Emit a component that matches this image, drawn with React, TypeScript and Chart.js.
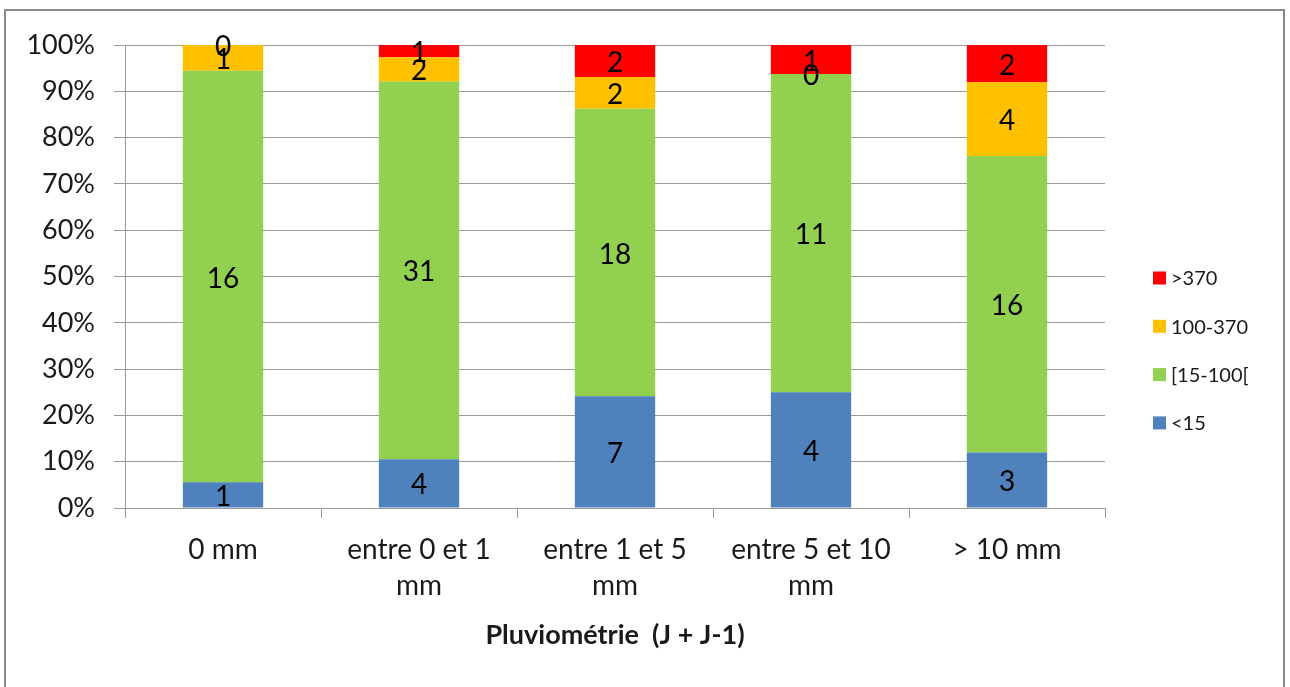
import React, { useEffect, useRef } from "react";
import { Chart, registerables } from "chart.js";

Chart.register(...registerables);

// ---- Data ----
const categories: string[][] = [
  ["0 mm"],
  ["entre 0 et 1", "mm"],
  ["entre 1 et 5", "mm"],
  ["entre 5 et 10", "mm"],
  ["> 10 mm"],
];
const seriesNames = ["<15", "[15-100[", "100-370", ">370"];
const seriesColors = ["#4F81BD", "#92D050", "#FFC000", "#FF0000"];
const countLt15 = [1, 4, 7, 4, 3];
const count15to100 = [16, 31, 18, 11, 16];
const count100to370 = [1, 2, 2, 0, 4];
const countGt370 = [0, 1, 2, 1, 2];
const yTickValues = [0, 10, 20, 30, 40, 50, 60, 70, 80, 90, 100];
const xAxisTitle = "Pluviométrie  (J + J-1)";

const seriesCounts = [countLt15, count15to100, count100to370, countGt370];
const totals = categories.map((_, i) =>
  seriesCounts.reduce((s, arr) => s + arr[i], 0)
);

const FONT = "Lato, 'Open Sans', sans-serif";

const dataLabelPlugin = {
  id: "segmentLabels",
  afterDatasetsDraw(chart: any) {
    const ctx = chart.ctx;
    ctx.save();
    ctx.font = `28px ${FONT}`;
    ctx.fillStyle = "#000";
    ctx.textAlign = "center";
    ctx.textBaseline = "middle";
    chart.data.datasets.forEach((_ds: any, di: number) => {
      const meta = chart.getDatasetMeta(di);
      meta.data.forEach((bar: any, i: number) => {
        const p = bar.getProps(["x", "y", "base"], true);
        ctx.fillText(String(seriesCounts[di][i]), p.x, (p.y + p.base) / 2 + 2);
      });
    });
    ctx.restore();
  },
};

const legendPlugin = {
  id: "customLegend",
  afterDraw(chart: any) {
    const ctx = chart.ctx;
    ctx.save();
    ctx.font = `20px ${FONT}`;
    ctx.textAlign = "left";
    ctx.textBaseline = "middle";
    const n = seriesNames.length;
    for (let k = 0; k < n; k++) {
      const si = n - 1 - k;
      const cy = 278 + k * 48.3;
      ctx.fillStyle = seriesColors[si];
      ctx.fillRect(1153, cy - 6.5, 13, 13);
      ctx.fillStyle = "#1a1a1a";
      ctx.fillText(seriesNames[si], 1171, cy + 1);
    }
    ctx.restore();
  },
};

export default function App() {
  const canvasRef = useRef<HTMLCanvasElement | null>(null);

  useEffect(() => {
    if (!canvasRef.current) return;
    const chart = new Chart(canvasRef.current, {
      type: "bar",
      data: {
        labels: categories as any,
        datasets: seriesCounts.map((arr, si) => ({
          label: seriesNames[si],
          data: arr.map((c, i) => (c / totals[i]) * 100),
          backgroundColor: seriesColors[si],
          borderWidth: 0,
          barPercentage: 0.41,
          categoryPercentage: 1,
        })),
      },
      options: {
        responsive: false,
        animation: false,
        devicePixelRatio: 1,
        layout: { padding: { top: 45, right: 185, left: 0, bottom: 0 } },
        plugins: {
          legend: { display: false },
          tooltip: { enabled: false },
          title: { display: false },
        },
        scales: {
          x: {
            stacked: true,
            grid: {
              offset: true,
              drawOnChartArea: false,
              drawTicks: true,
              tickLength: 10,
              color: "#9a9a9a",
            },
            border: { display: true, color: "#9a9a9a", width: 1 },
            ticks: {
              color: "#1a1a1a",
              font: { family: FONT, size: 28, lineHeight: 1.32 },
              padding: 13,
              maxRotation: 0,
              autoSkip: false,
            },
            title: {
              display: true,
              text: xAxisTitle,
              color: "#1a1a1a",
              font: { family: FONT, size: 27, weight: "bold" },
              padding: { top: 0, bottom: 36 },
            },
            afterFit(scale: any) {
              scale.height = 179;
            },
          },
          y: {
            stacked: true,
            min: 0,
            max: 100,
            afterBuildTicks(scale: any) {
              scale.ticks = yTickValues.map((v) => ({ value: v }));
            },
            grid: {
              color: "#9a9a9a",
              tickLength: 11,
              lineWidth: 1,
            },
            border: { display: true, color: "#9a9a9a", width: 1 },
            ticks: {
              color: "#1a1a1a",
              font: { family: FONT, size: 27 },
              padding: 19,
              callback: (v: any) => `${v}%`,
            },
            afterFit(scale: any) {
              scale.width = 125;
            },
          },
        },
      },
      plugins: [dataLabelPlugin, legendPlugin],
    });
    return () => chart.destroy();
  }, []);

  return (
    <div
      style={{
        position: "fixed",
        left: 0,
        top: 0,
        width: 1290,
        height: 687,
        background: "#fff",
        overflow: "hidden",
      }}
    >
      <div
        style={{
          position: "absolute",
          left: 4,
          top: 9,
          width: 1281,
          height: 700,
          border: "2px solid #8a8a8a",
          boxSizing: "border-box",
        }}
      />
      <canvas
        ref={canvasRef}
        width={1290}
        height={687}
        style={{ position: "absolute", left: 0, top: 0, display: "block" }}
      />
    </div>
  );
}
